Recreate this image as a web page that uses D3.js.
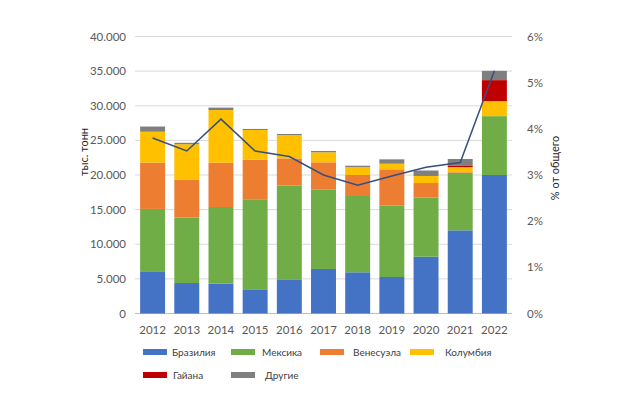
<!DOCTYPE html>
<html>
<head>
<meta charset="utf-8">
<script src="https://cdn.jsdelivr.net/npm/d3@7"></script>
<style>
body{margin:0;background:#fff;}
text{font-family:Lato,"Open Sans",sans-serif;}
</style>
</head>
<body>
<script>
var years = ["2012","2013","2014","2015","2016","2017","2018","2019","2020","2021","2022"];
var brazil    = [6000,4400,4300,3400,4850,6430,5950,5270,8200,12010,20000];
var mexico    = [9100,9450,11080,13100,13650,11500,11020,10300,8530,8300,8500];
var venezuela = [6700,5450,6400,5700,3900,3900,3030,5250,2110,100,0];
var colombia  = [4450,5150,7600,4300,3370,1450,1150,810,1020,720,2170];
var guyana    = [0,0,0,0,0,0,0,0,0,180,3030];
var others    = [750,200,350,150,150,190,190,630,790,1000,1340];
var share     = [3.8,3.52,4.21,3.52,3.4,3.0,2.78,2.98,3.17,3.27,5.26];
var seriesNames = ["Бразилия","Мексика","Венесуэла","Колумбия","Гайана","Другие"];
var colors = ["#4472c4","#70ad47","#ed7d31","#ffc000","#c00000","#7f7f7f"];
var leftTicks = [0,5000,10000,15000,20000,25000,30000,35000,40000];
var rightTicks = [0,1,2,3,4,5,6];

var width = 624, height = 396;
var margin = {top:36.5, left:135, right:112, bottom:82.5};
var plotW = width - margin.left - margin.right;
var plotH = height - margin.top - margin.bottom;

var svg = d3.select("body").append("svg")
    .attr("width",width).attr("height",height);
var g = svg.append("g").attr("transform","translate("+[margin.left,margin.top]+")");

var x = d3.scaleBand().domain(years).range([0,plotW]).paddingInner(0.27).paddingOuter(0.15);
var y = d3.scaleLinear().domain([0,40000]).range([plotH,0]);
var y2 = d3.scaleLinear().domain([0,6]).range([plotH,0]);

// gridlines
g.selectAll(".grid").data(leftTicks).enter().append("line")
    .attr("x1",0).attr("x2",plotW)
    .attr("y1",function(d){return y(d);}).attr("y2",function(d){return y(d);})
    .style("stroke",function(d){return d==0 ? "#bfbfbf" : "#d9d9d9";})
    .style("stroke-width",1);

// stacked data
var rows = years.map(function(yr,i){
    return {year:yr, s0:brazil[i], s1:mexico[i], s2:venezuela[i], s3:colombia[i], s4:guyana[i], s5:others[i]};
});
var stack = d3.stack().keys(["s0","s1","s2","s3","s4","s5"]);
var layers = stack(rows);

g.selectAll(".layer").data(layers).enter().append("g")
    .attr("class","layer")
    .style("fill",function(d,i){return colors[i];})
  .selectAll("rect").data(function(d){return d;}).enter().append("rect")
    .attr("x",function(d){return x(d.data.year);})
    .attr("width",x.bandwidth())
    .attr("y",function(d){return y(d[1]);})
    .attr("height",function(d){return y(d[0]) - y(d[1]);});

// share line
var line = d3.line()
    .x(function(d,i){return x(years[i]) + x.bandwidth()/2;})
    .y(function(d){return y2(d);});
g.append("path").datum(share)
    .attr("d",line)
    .style("fill","none")
    .style("stroke","#374f7d")
    .style("stroke-width",1.5);

// left axis labels
g.selectAll(".ylab").data(leftTicks).enter().append("text")
    .attr("x",-9).attr("y",function(d){return y(d);})
    .attr("dy","0.35em")
    .attr("text-anchor","end")
    .style("font-size","11.5px").style("fill","#595959")
    .text(function(d){return d==0 ? "0" : d3.format(",")(d).replace(",",".");});

// right axis labels
g.selectAll(".y2lab").data(rightTicks).enter().append("text")
    .attr("x",plotW+15).attr("y",function(d){return y2(d);})
    .attr("dy","0.35em")
    .style("font-size","11.5px").style("fill","#595959")
    .text(function(d){return d+"%";});

// x labels
g.selectAll(".xlab").data(years).enter().append("text")
    .attr("x",function(d){return x(d)+x.bandwidth()/2;})
    .attr("y",plotH+20)
    .attr("text-anchor","middle")
    .style("font-size","11.5px").style("fill","#595959")
    .text(function(d){return d;});

// axis titles
svg.append("text")
    .attr("transform","translate(88,152) rotate(-90)")
    .attr("text-anchor","middle")
    .style("font-size","11px").style("fill","#262626")
    .text("тыс. тонн");
svg.append("text")
    .attr("transform","translate(559,168) rotate(-90)")
    .attr("text-anchor","middle")
    .style("font-size","11px").style("fill","#262626")
    .text("% от общего");

// legend
var legPos = [[143,352],[231,352],[320,352],[410,352],[143,375],[231,375]];
var legTextX = [172,262,353,445,173,265];
var leg = svg.selectAll(".leg").data(seriesNames).enter().append("g").attr("class","leg");
leg.append("rect")
    .attr("x",function(d,i){return legPos[i][0];})
    .attr("y",function(d,i){return legPos[i][1]-3;})
    .attr("width",24).attr("height",6)
    .style("fill",function(d,i){return colors[i];});
leg.append("text")
    .attr("x",function(d,i){return legTextX[i];})
    .attr("y",function(d,i){return legPos[i][1];})
    .attr("dy","0.35em")
    .style("font-size","10px").style("fill","#404040")
    .text(function(d){return d;});
</script>
</body>
</html>
